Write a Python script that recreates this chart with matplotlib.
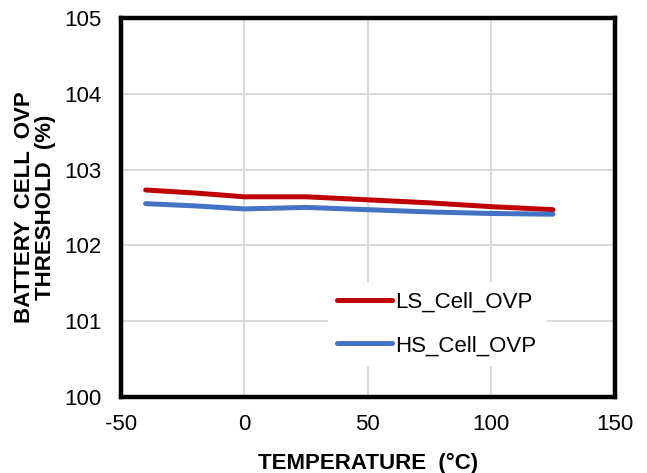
import matplotlib
matplotlib.use("Agg")
import matplotlib.pyplot as plt

# temperature points (°C)
temp = [-40, -20, 0, 25, 50, 75, 100, 125]
# OVP threshold (%)
ls_cell_ovp = [102.73, 102.69, 102.64, 102.64, 102.60, 102.56, 102.51, 102.47]
hs_cell_ovp = [102.55, 102.52, 102.48, 102.50, 102.47, 102.44, 102.42, 102.41]

x_ticks = [-50, 0, 50, 100, 150]
y_ticks = [100, 101, 102, 103, 104, 105]

plt.rcParams['font.family'] = ['Liberation Sans', 'DejaVu Sans']
plt.rcParams['axes.unicode_minus'] = False

fig = plt.figure(figsize=(6.47, 4.73), dpi=100)
ax = fig.add_axes([0.187, 0.161, 0.763, 0.801])

ax.plot(temp, ls_cell_ovp, color='#C00000', lw=3.6, solid_capstyle='round',
        solid_joinstyle='round', label='LS_Cell_OVP', zorder=3)
ax.plot(temp, hs_cell_ovp, color='#4472C4', lw=3.6, solid_capstyle='round',
        solid_joinstyle='round', label='HS_Cell_OVP', zorder=3)

ax.set_xlim(-50, 150)
ax.set_ylim(100, 105)
ax.set_xticks(x_ticks)
ax.set_yticks(y_ticks)
ax.tick_params(axis='both', length=0, labelsize=16)
ax.tick_params(axis='y', pad=14)
ax.tick_params(axis='x', pad=12)
ax.grid(True, color='#D9D9D9', lw=1.4)
ax.set_axisbelow(True)
for s in ax.spines.values():
    s.set_linewidth(3.2)
    s.set_color('black')

ax.set_xlabel('TEMPERATURE  (°C)', fontsize=16, fontweight='bold', labelpad=13)
ax.set_ylabel('BATTERY  CELL  OVP\nTHRESHOLD  (%)', fontsize=16, fontweight='bold',
              labelpad=6, linespacing=1.0)

leg = ax.legend(loc='center left', bbox_to_anchor=(0.419, 0.192), fontsize=16,
                frameon=True, framealpha=1, edgecolor='white', facecolor='white',
                handlelength=2.5, handletextpad=0.15, labelspacing=1.0,
                fancybox=False, borderpad=0.4, borderaxespad=0)
leg.set_zorder(4)

fig.savefig('out.png', dpi=100)
